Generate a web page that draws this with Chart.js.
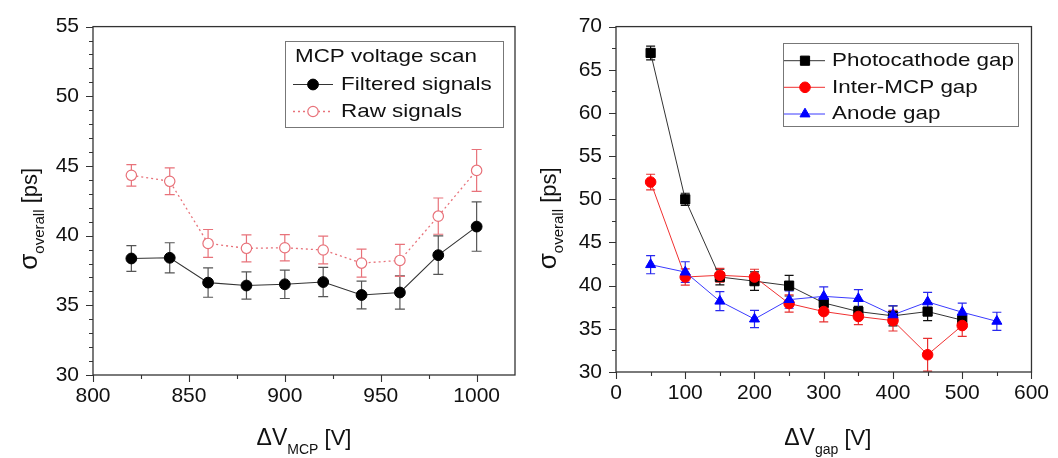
<!DOCTYPE html>
<html>
<head>
<meta charset="utf-8">
<script src="https://cdn.jsdelivr.net/npm/chart.js@4.4.1/dist/chart.umd.min.js"></script>
<style>
  html, body { margin: 0; padding: 0; background: #fff; }
  #wrap { position: relative; width: 1058px; height: 458px; }
  canvas { position: absolute; top: 0; }
  #left { left: 0; }
  #right { left: 529px; }
</style>
</head>
<body>
<div id="wrap">
  <canvas id="left" width="529" height="458"></canvas>
  <canvas id="right" width="529" height="458"></canvas>
</div>
<script>
// Dados - varredura de tensao da MCP (grafico esquerdo)
const mcpVoltage = [820, 840, 860, 880, 900, 920, 940, 960, 980, 1000];
const filteredSigma = [38.36, 38.41, 36.63, 36.42, 36.51, 36.67, 35.74, 35.92, 38.6, 40.65];
const filteredErr = [0.93, 1.08, 1.05, 0.98, 1.02, 1.05, 1.0, 1.2, 1.38, 1.77];
const rawSigma = [44.33, 43.9, 39.44, 39.09, 39.13, 38.97, 38.03, 38.22, 41.4, 44.68];
const rawErr = [0.77, 0.96, 1.0, 0.97, 0.94, 1.0, 1.0, 1.15, 1.3, 1.5];

// Dados - varredura dos gaps (grafico direito)
const gapVoltage = [50, 100, 150, 200, 250, 300, 350, 400, 450, 500];
const anodeVoltage = [50, 100, 150, 200, 250, 300, 350, 400, 450, 500, 550];
const photocathodeSigma = [66.95, 50.0, 41.0, 40.52, 40.0, 38.0, 37.0, 36.5, 37.0, 36.0];
const photocathodeErr = [0.8, 0.7, 0.9, 1.07, 1.2, 0.5, 0.6, 1.15, 1.05, 0.6];
const interMcpSigma = [52.0, 41.0, 41.2, 41.0, 37.93, 37.0, 36.43, 35.95, 32.0, 35.38];
const interMcpErr = [0.9, 0.95, 0.8, 0.9, 1.0, 1.2, 0.95, 1.2, 1.9, 1.25];
const anodeSigma = [42.43, 41.57, 38.2, 36.13, 38.38, 38.76, 38.5, 36.62, 38.12, 36.92, 35.87];
const anodeErr = [1.05, 1.2, 1.1, 1.0, 1.0, 1.1, 1.05, 1.05, 1.1, 1.05, 1.05];

// Rotulos dos eixos
const leftYTicks = [30, 35, 40, 45, 50, 55];
const leftXTicks = [800, 850, 900, 950, 1000];
const rightYTicks = [30, 35, 40, 45, 50, 55, 60, 65, 70];
const rightXTicks = [0, 100, 200, 300, 400, 500, 600];

const FONT = '"Liberation Sans", Arial, Helvetica, sans-serif';
Chart.defaults.font.family = FONT;
Chart.defaults.color = '#111';

function toPoints(xs, ys) {
    return xs.map((x, i) => ({ x: x, y: ys[i] }));
}

// Barras de erro (desenhadas antes das linhas/pontos)
const errorBars = {
    id: 'errorBars',
    beforeDatasetsDraw(chart) {
        const ctx = chart.ctx;
        const area = chart.chartArea;
        const ys = chart.scales.y;
        ctx.save();
        ctx.beginPath();
        ctx.rect(area.left, area.top, area.right - area.left, area.bottom - area.top);
        ctx.clip();
        chart.data.datasets.forEach((ds, i) => {
            if (!ds.errors) return;
            const meta = chart.getDatasetMeta(i);
            ctx.strokeStyle = ds.errorColor || ds.borderColor;
            ctx.lineWidth = 1.2;
            meta.data.forEach((el, j) => {
                const v = ds.data[j].y;
                const e = ds.errors[j];
                const top = ys.getPixelForValue(v + e);
                const bot = ys.getPixelForValue(v - e);
                const cap = ds.capWidth || 5;
                ctx.beginPath();
                ctx.moveTo(el.x, top); ctx.lineTo(el.x, bot);
                ctx.moveTo(el.x - cap, top); ctx.lineTo(el.x + cap, top);
                ctx.moveTo(el.x - cap, bot); ctx.lineTo(el.x + cap, bot);
                ctx.stroke();
            });
        });
        ctx.restore();
    }
};

// Moldura e marcas de escala (maiores e menores)
const frameTicks = {
    id: 'frameTicks',
    afterDraw(chart, args, opts) {
        const ctx = chart.ctx;
        const a = chart.chartArea;
        const xs = chart.scales.x;
        const ys = chart.scales.y;
        ctx.save();
        ctx.strokeStyle = '#333';
        ctx.lineWidth = 1.3;
        ctx.strokeRect(a.left, a.top, a.right - a.left, a.bottom - a.top);
        ctx.lineWidth = 1.1;
        ctx.beginPath();
        const isMajor = (v, step) => Math.abs(v / step - Math.round(v / step)) < 1e-6;
        for (let v = xs.min; v <= xs.max + 1e-9; v += opts.xMinor) {
            const px = Math.round(xs.getPixelForValue(v)) + 0.5;
            const len = isMajor(v, opts.xMajor) ? 7 : 4;
            ctx.moveTo(px, a.bottom); ctx.lineTo(px, a.bottom + len);
        }
        for (let v = ys.min; v <= ys.max + 1e-9; v += opts.yMinor) {
            const py = Math.round(ys.getPixelForValue(v)) + 0.5;
            const len = isMajor(v, opts.yMajor) ? 7 : 4;
            ctx.moveTo(a.left, py); ctx.lineTo(a.left - len, py);
        }
        ctx.stroke();
        ctx.restore();
    }
};

// Titulos dos eixos com subscrito
function drawParts(ctx, parts, cx, base) {
    let total = 0;
    parts.forEach(p => { ctx.font = p.size + 'px ' + FONT; p.w = ctx.measureText(p.text).width; total += p.w; });
    let x = cx - total / 2;
    parts.forEach(p => {
        ctx.font = p.size + 'px ' + FONT;
        ctx.fillText(p.text, x, base + (p.dy || 0));
        x += p.w;
    });
}

const axisTitles = {
    id: 'axisTitles',
    afterDraw(chart, args, opts) {
        const ctx = chart.ctx;
        const a = chart.chartArea;
        ctx.save();
        ctx.fillStyle = '#111';
        ctx.textBaseline = 'alphabetic';
        ctx.textAlign = 'left';
        drawParts(ctx, opts.x.parts, (a.left + a.right) / 2 + opts.x.dx, opts.x.baseline);
        ctx.translate(opts.y.baseline, (a.top + a.bottom) / 2 + opts.y.dy);
        ctx.rotate(-Math.PI / 2);
        drawParts(ctx, opts.y.parts, 0, 0);
        ctx.restore();
    }
};

// Legenda em caixa dentro da area do grafico
const boxLegend = {
    id: 'boxLegend',
    afterDraw(chart, args, opts) {
        const ctx = chart.ctx;
        const b = opts.box;
        ctx.save();
        ctx.strokeStyle = '#777';
        ctx.lineWidth = 1;
        ctx.strokeRect(b[0] + 0.5, b[1] + 0.5, b[2] - b[0], b[3] - b[1]);
        ctx.fillStyle = '#111';
        ctx.textBaseline = 'middle';
        const text = (s, x, y) => {
            ctx.save();
            ctx.translate(x, y);
            ctx.scale(opts.stretch, 1);
            ctx.font = opts.size + 'px ' + FONT;
            ctx.fillText(s, 0, 0);
            ctx.restore();
        };
        if (opts.title) text(opts.title, opts.titleX, opts.titleY);
        chart.data.datasets.forEach((ds, i) => {
            const y = opts.rows[i];
            ctx.save();
            ctx.strokeStyle = ds.borderColor;
            ctx.lineWidth = ds.borderWidth;
            ctx.setLineDash(ds.borderDash || []);
            ctx.beginPath();
            ctx.moveTo(opts.lineX[0], y); ctx.lineTo(opts.lineX[1], y);
            ctx.stroke();
            ctx.setLineDash([]);
            ctx.fillStyle = ds.pointBackgroundColor;
            ctx.strokeStyle = ds.pointBorderColor;
            ctx.lineWidth = ds.pointBorderWidth;
            Chart.helpers.drawPoint(ctx, { pointStyle: ds.pointStyle, radius: ds.pointRadius, rotation: 0, borderWidth: ds.pointBorderWidth }, opts.markX, y);
            ctx.restore();
            text(ds.label, opts.textX, y);
        });
        ctx.restore();
    }
};

// Escalas: marcas principais vindas das listas de rotulos
function baseScales(xMin, xMax, xTicks, yMin, yMax, yTicks, yWidth, xHeight) {
    return {
        x: {
            type: 'linear', min: xMin, max: xMax,
            grid: { display: false, drawTicks: false }, border: { display: false },
            afterBuildTicks: s => { s.ticks = xTicks.map(v => ({ value: v })); },
            ticks: { padding: 9, font: { size: 21 }, color: '#111', maxRotation: 0, autoSkip: false,
                     callback: v => String(v) },
            afterFit: s => { s.height = xHeight; }
        },
        y: {
            min: yMin, max: yMax,
            grid: { display: false, drawTicks: false }, border: { display: false },
            afterBuildTicks: s => { s.ticks = yTicks.map(v => ({ value: v })); },
            ticks: { padding: 14, font: { size: 21 }, color: '#111', autoSkip: false, callback: v => String(v) },
            afterFit: s => { s.width = yWidth; }
        }
    };
}

// Grafico esquerdo
new Chart(document.getElementById('left'), {
    type: 'line',
    data: {
        datasets: [{
            label: 'Filtered signals',
            data: toPoints(mcpVoltage, filteredSigma),
            errors: filteredErr,
            errorColor: '#555',
            borderColor: '#333', borderWidth: 1.1,
            pointStyle: 'circle', pointRadius: 5.4,
            pointBackgroundColor: '#000', pointBorderColor: '#000', pointBorderWidth: 1,
            capWidth: 5, order: 0
        }, {
            label: 'Raw signals',
            data: toPoints(mcpVoltage, rawSigma),
            errors: rawErr,
            errorColor: '#e8727a',
            borderColor: '#e8727a', borderWidth: 1.3, borderDash: [2, 3],
            pointStyle: 'circle', pointRadius: 5.2,
            pointBackgroundColor: '#fff', pointBorderColor: '#e8727a', pointBorderWidth: 1.2,
            capWidth: 5, order: 1
        }]
    },
    options: {
        responsive: false, animation: false,
        layout: { padding: { top: 19, right: 14, left: 0, bottom: 0 } },
        scales: baseScales(800, 1020, leftXTicks, 30, 55, leftYTicks, 93, 83),
        plugins: {
            legend: { display: false }, tooltip: { enabled: false },
            frameTicks: { xMinor: 25, xMajor: 50, yMinor: 1, yMajor: 5 },
            axisTitles: {
                x: { parts: [{ text: 'ΔV', size: 23 }, { text: 'MCP', size: 14, dy: 9 }, { text: ' [V]', size: 22 }], baseline: 445, dx: 0 },
                y: { parts: [{ text: 'σ', size: 26 }, { text: 'overall', size: 15, dy: 7 }, { text: ' [ps]', size: 22 }], baseline: 37, dy: 18 }
            },
            boxLegend: {
                box: [285, 41, 503, 127], title: 'MCP voltage scan', titleX: 295, titleY: 57,
                rows: [84.5, 111.5], lineX: [293, 333], markX: 313, textX: 341, size: 19, stretch: 1.18
            }
        }
    },
    plugins: [errorBars, frameTicks, axisTitles, boxLegend]
});

// Grafico direito
new Chart(document.getElementById('right'), {
    type: 'line',
    data: {
        datasets: [{
            label: 'Photocathode gap',
            data: toPoints(gapVoltage, photocathodeSigma),
            errors: photocathodeErr,
            borderColor: '#333', borderWidth: 1, errorColor: '#111',
            pointStyle: 'rect', pointRadius: 6.5,
            pointBackgroundColor: '#000', pointBorderColor: '#000', pointBorderWidth: 1,
            capWidth: 4.5, order: 2
        }, {
            label: 'Inter-MCP gap',
            data: toPoints(gapVoltage, interMcpSigma),
            errors: interMcpErr,
            borderColor: '#f03030', borderWidth: 1, errorColor: '#e83030',
            pointStyle: 'circle', pointRadius: 5.3,
            pointBackgroundColor: '#ff0000', pointBorderColor: '#ff0000', pointBorderWidth: 1,
            capWidth: 4.5, order: 1
        }, {
            label: 'Anode gap',
            data: toPoints(anodeVoltage, anodeSigma),
            errors: anodeErr,
            borderColor: '#3a3aff', borderWidth: 1, errorColor: '#2a2aee',
            pointStyle: 'triangle', pointRadius: 5.8,
            pointBackgroundColor: '#0000ff', pointBorderColor: '#0000ff', pointBorderWidth: 1,
            capWidth: 4.5, order: 0
        }]
    },
    options: {
        responsive: false, animation: false,
        layout: { padding: { top: 17, right: 22, left: 0, bottom: 0 } },
        scales: baseScales(0, 600, rightXTicks, 30, 70, rightYTicks, 87, 86),
        plugins: {
            legend: { display: false }, tooltip: { enabled: false },
            frameTicks: { xMinor: 50, xMajor: 100, yMinor: 2.5, yMajor: 5 },
            axisTitles: {
                x: { parts: [{ text: 'ΔV', size: 23 }, { text: 'gap', size: 14, dy: 9 }, { text: ' [V]', size: 22 }], baseline: 445, dx: 4 },
                y: { parts: [{ text: 'σ', size: 26 }, { text: 'overall', size: 15, dy: 7 }, { text: ' [ps]', size: 22 }], baseline: 27, dy: 19 }
            },
            boxLegend: {
                box: [254, 43, 489, 126], title: null,
                rows: [60.7, 87.3, 114], lineX: [255, 296], markX: 276, textX: 303, size: 19, stretch: 1.18
            }
        }
    },
    plugins: [errorBars, frameTicks, axisTitles, boxLegend]
});
</script>
</body>
</html>
